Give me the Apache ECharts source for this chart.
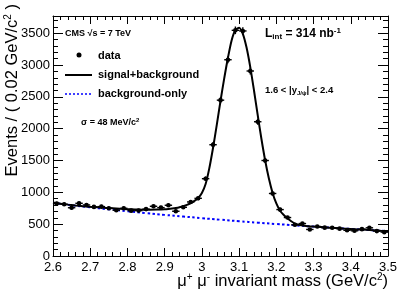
<!DOCTYPE html>
<html><head><meta charset="utf-8">
<script src="https://cdn.jsdelivr.net/npm/echarts@6/dist/echarts.min.js"></script>
<style>html,body{margin:0;padding:0;background:#fff}#c{width:409px;height:294px}</style>
</head><body><div id="c"></div>
<script>
// ---- data ----
const binCenters = [2.61,2.63,2.65,2.67,2.69,2.71,2.73,2.75,2.77,2.79,2.81,2.83,2.85,2.87,2.89,2.91,2.93,2.95,2.97,2.99,
  3.01,3.03,3.05,3.07,3.09,3.11,3.13,3.15,3.17,3.19,3.21,3.23,3.25,3.27,3.29,3.31,3.33,3.35,3.37,3.39,3.41,3.43,3.45,3.47,3.49];
const dataCounts = [823,812,758,828,802,771,776,750,719,750,712,713,737,781,760,797,703,765,849,906,
  1214,1748,2448,3083,3545,3535,2906,2109,1500,982,729,604,490,510,417,463,445,443,430,404,396,422,443,391,375];
const dataErrors = [29,28,28,29,28,28,28,27,27,27,27,27,27,28,28,28,27,28,29,30,
  35,42,49,56,60,59,54,46,39,31,27,25,22,23,20,22,21,21,21,20,20,21,21,20,19];
const binHalfWidth = 0.01;

const fitMass = [2.60,2.62,2.64,2.66,2.68,2.70,2.72,2.74,2.76,2.78,2.80,2.82,2.84,2.86,2.88,
  2.90,2.91,2.92,2.93,2.94,2.95,2.96,2.97,2.98,2.99,3.00,3.01,3.02,3.03,3.04,3.05,3.06,3.07,3.08,3.09,
  3.10,3.11,3.12,3.13,3.14,3.15,3.16,3.17,3.18,3.19,3.20,3.21,3.22,3.23,3.24,3.25,3.26,3.27,3.28,3.29,3.30,
  3.32,3.34,3.36,3.38,3.40,3.42,3.44,3.46,3.48,3.50];
const fitValues = [840,822,807,794,783,773,764,756,749,742,736,731,728,727,729,
  734,739,746,755,767,783,803,830,866,912,990,1130,1380,1700,2060,2435,2790,3115,3390,3550,
  3585,3490,3275,2968,2600,2213,1838,1501,1217,990,825,712,645,593,545,510,490,479,471,466,462,
  455,447,440,432,425,418,411,404,397,391];

const bkgMass = [2.60,2.65,2.70,2.75,2.80,2.85,2.90,2.95,3.00,3.05,3.10,3.15,3.20,3.25,3.30,3.35,3.40,3.45,3.50];
const bkgValues = [835,798,765,733,703,674,646,620,594,570,546,524,502,482,462,443,425,407,390];

const xMin = 2.6, xMax = 3.5, xStep = 0.1;
const yMin = 0, yMax = 3770, yStep = 500, yMinorStep = 100;

// ---- chart ----
const FONT = '"Liberation Sans", Arial, Helvetica, sans-serif';
const chart = echarts.init(document.getElementById('c'), null, {renderer:'canvas'});

const grid = {left:53, top:16, width:335, height:240};
function xAx(pos, labels){
  return {type:'value', position:pos, min:xMin, max:xMax, interval:xStep, gridIndex:0,
    axisLine:{show:true, onZero:false, lineStyle:{color:'#000', width:1}},
    axisTick:{show:true, inside:true, length:8, lineStyle:{color:'#000', width:1}},
    minorTick:{show:true, splitNumber:5, length:4, lineStyle:{color:'#000', width:1}},
    splitLine:{show:false}, minorSplitLine:{show:false},
    axisLabel:{show:labels, margin:5, fontSize:13, fontFamily:FONT, color:'#000',
      showMinLabel:true, showMaxLabel:true, formatter:v=>String(+v.toFixed(1))}};
}
function yAx(pos, step, len, labels, line){
  return {type:'value', position:pos, min:yMin, max:yMax, interval:step, gridIndex:0,
    axisLine:{show:line, onZero:false, lineStyle:{color:'#000', width:1}},
    axisTick:{show:true, inside:true, length:len, lineStyle:{color:'#000', width:1}},
    splitLine:{show:false},
    axisLabel:{show:labels, margin:3, fontSize:13, fontFamily:FONT, color:'#000', showMaxLabel:false,
      formatter:v=>(v % yStep === 0 ? String(v) : '')}};
}

const sup = (s)=>({fontSize:s, fontFamily:FONT, lineHeight:s, verticalAlign:'top', fill:'#000'});
const sub = (s)=>({fontSize:s, fontFamily:FONT, lineHeight:s, verticalAlign:'bottom', fill:'#000'});

function text(x, y, str, size, o){
  o = o || {};
  const st = {text:str, fontSize:size, fontFamily:FONT, fontWeight:o.bold?'bold':'normal', fill:'#000',
    align:o.align||'left', verticalAlign:'middle', textAlign:o.align||'left', textVerticalAlign:'middle'};
  if (o.rich) st.rich = o.rich;
  return {type:'text', x:x, y:y, rotation:o.rotation||0, z:100, silent:true, style:st};
}

const option = {
  animation:false,
  backgroundColor:'#fff',
  grid:grid,
  xAxis:[xAx('bottom', true), xAx('top', false)],
  yAxis:[yAx('left', yStep, 10, true, true), yAx('left', yMinorStep, 5, false, false),
         yAx('right', yStep, 10, false, true), yAx('right', yMinorStep, 5, false, false)],
  series:[
    {type:'line', xAxisIndex:0, yAxisIndex:0, data:bkgMass.map((m,i)=>[m,bkgValues[i]]),
      showSymbol:false, smooth:true, clip:true,
      lineStyle:{color:'#0000ff', width:2, type:[2.5,2.5]}, z:3},
    {type:'line', xAxisIndex:0, yAxisIndex:0, data:fitMass.map((m,i)=>[m,fitValues[i]]),
      showSymbol:false, smooth:0.25, clip:true,
      lineStyle:{color:'#000', width:2}, z:4},
    {type:'custom', xAxisIndex:0, yAxisIndex:0, z:5,
      data:binCenters.map((x,i)=>[x, dataCounts[i], dataErrors[i]]),
      renderItem:function(params, api){
        const x = api.value(0), y = api.value(1), e = api.value(2);
        const c = api.coord([x,y]);
        const l = api.coord([x-binHalfWidth,y]), r = api.coord([x+binHalfWidth,y]);
        const t = api.coord([x,y+e]), b = api.coord([x,y-e]);
        return {type:'group', children:[
          {type:'line', shape:{x1:l[0],y1:l[1],x2:r[0],y2:r[1]}, style:{stroke:'#000', lineWidth:1.4}},
          {type:'line', shape:{x1:t[0],y1:t[1],x2:b[0],y2:b[1]}, style:{stroke:'#000', lineWidth:1.4}},
          {type:'circle', shape:{cx:c[0],cy:c[1],r:2.3}, style:{fill:'#000'}}
        ]};
      }}
  ],
  graphic:[
    text(65, 34, 'CMS \u221As = 7 TeV', 9, {bold:true}),
    {type:'circle', shape:{cx:79, cy:55, r:2.5}, style:{fill:'#000'}, z:100},
    text(98, 56, 'data', 11, {bold:true}),
    {type:'line', shape:{x1:65, y1:75, x2:92, y2:75}, style:{stroke:'#000', lineWidth:2}, z:100},
    text(98, 75, 'signal+background', 11, {bold:true}),
    {type:'line', shape:{x1:65, y1:94, x2:92, y2:94}, style:{stroke:'#0000ff', lineWidth:1.5, lineDash:[2,2]}, z:100},
    text(98, 94, 'background-only', 11, {bold:true}),
    text(81, 123, '{m|\u03C3 = 48 MeV/c}{s|2}', 9, {bold:true, rich:{
      m:{fontSize:9, fontWeight:'bold', fontFamily:FONT, lineHeight:11, verticalAlign:'middle', fill:'#000'},
      s:Object.assign(sup(6), {fontWeight:'bold'})}}),
    text(265, 34, '{m|L}{b|int}{m| = 314 nb}{s|-1}', 12, {bold:true, rich:{
      m:{fontSize:12, fontWeight:'bold', fontFamily:FONT, lineHeight:14, verticalAlign:'middle', fill:'#000'},
      b:Object.assign(sub(8), {fontWeight:'bold'}),
      s:Object.assign(sup(8), {fontWeight:'bold'})}}),
    text(265, 90, '{m|1.6 < |y}{b|J/\u03C8}{m|| < 2.4}', 9.5, {bold:true, rich:{
      m:{fontSize:9.5, fontWeight:'bold', fontFamily:FONT, lineHeight:12, verticalAlign:'middle', fill:'#000'},
      b:Object.assign(sub(6), {fontWeight:'bold'})}}),
    text(388, 281, '{m|\u03BC}{s|+}{m| \u03BC}{s|-}{m| invariant mass (GeV/c}{s|2}{m|)}', 16.5, {align:'right', rich:{
      m:{fontSize:16.5, fontFamily:FONT, lineHeight:18, verticalAlign:'middle', fill:'#000'},
      s:sup(10)}}),
    text(12, 4, '{m|Events / ( 0.02 GeV/c}{s|2}{m| )}', 16.5, {align:'right', rotation:Math.PI/2, rich:{
      m:{fontSize:16.5, fontFamily:FONT, lineHeight:18, verticalAlign:'middle', fill:'#000'},
      s:sup(10)}})
  ]
};
chart.setOption(option);
</script>
</body></html>
